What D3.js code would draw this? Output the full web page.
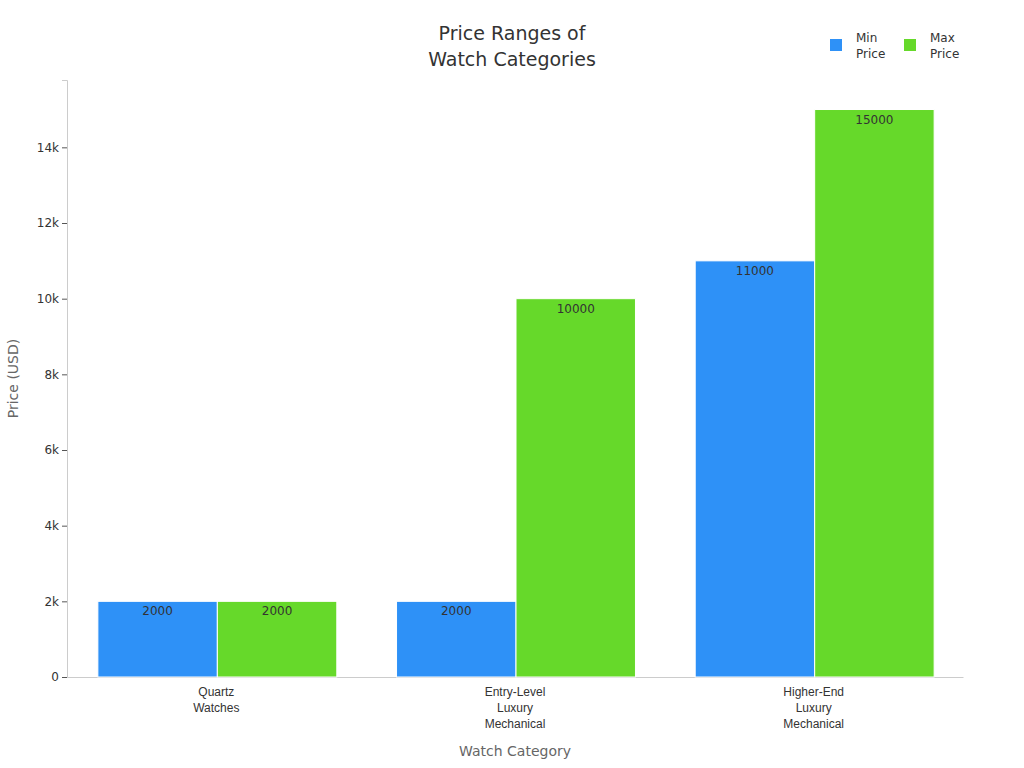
<!DOCTYPE html>
<html>
<head>
<meta charset="utf-8">
<script src="https://cdn.jsdelivr.net/npm/d3@7"></script>
<style>
body { margin: 0; background: #fff; font-family: "DejaVu Sans", sans-serif; }
</style>
</head>
<body>
<div id="chart"></div>
<script>
var categories = [["Quartz", "Watches"], ["Entry-Level", "Luxury", "Mechanical"], ["Higher-End", "Luxury", "Mechanical"]];
var minPrice = [2000, 2000, 11000];
var maxPrice = [2000, 10000, 15000];
var seriesNames = [["Min", "Price"], ["Max", "Price"]];
var colors = ["#2e91f7", "#66d92a"];
var yTicks = [0, 2000, 4000, 6000, 8000, 10000, 12000, 14000];

var W = 1024, H = 768;
var margin = { top: 80, right: 61, bottom: 91, left: 67 };
var w = W - margin.left - margin.right, h = H - margin.top - margin.bottom;

var svg = d3.select('#chart').append('svg')
	.attr('width', W).attr('height', H);
var g = svg.append('g')
	.attr('transform', 'translate(' + margin.left + ',' + margin.top + ')');

var x = d3.scaleBand().domain(d3.range(categories.length)).range([0, w]).paddingInner(0.2).paddingOuter(0.1);
var xs = d3.scaleBand().domain([0, 1]).range([0, x.bandwidth()]);
var y = d3.scaleLinear().domain([0, 15780]).range([h, 0]);

var yAxis = g.append('g').call(d3.axisLeft(y).tickValues(yTicks).tickSize(5)
	.tickFormat(function (d) { return d === 0 ? '0' : (d / 1000) + 'k'; }));
yAxis.select('.domain').attr('stroke', '#ccc');
yAxis.selectAll('.tick line').attr('stroke', '#555');
yAxis.selectAll('text').attr('font-size', 12).attr('fill', '#333').attr('font-family', 'DejaVu Sans');

var xAxis = g.append('g').attr('transform', 'translate(0,' + h + ')')
	.call(d3.axisBottom(x).tickSize(0).tickFormat(''));
xAxis.select('.domain').attr('stroke', '#ccc');
xAxis.selectAll('.tick').each(function (d) {
	var t = d3.select(this).append('text').attr('fill', '#333').attr('font-size', 12)
		.attr('text-anchor', 'middle').attr('y', 19);
	categories[d].forEach(function (s, i) {
		t.append('tspan').attr('x', 0).attr('dy', i ? 16 : 0).text(s);
	});
});

[minPrice, maxPrice].forEach(function (vals, si) {
	var grp = g.append('g');
	grp.selectAll('rect').data(vals).enter().append('rect')
		.attr('x', function (d, i) { return x(i) + xs(si) + 1; })
		.attr('y', function (d) { return y(d); })
		.attr('width', xs.bandwidth())
		.attr('height', function (d) { return h - y(d); })
		.attr('fill', colors[si]).attr('stroke', '#fff').attr('stroke-width', 1);
	grp.selectAll('text').data(vals).enter().append('text')
		.attr('x', function (d, i) { return x(i) + xs(si) + xs.bandwidth() / 2 + 1; })
		.attr('y', function (d) { return y(d) + 14; })
		.attr('text-anchor', 'middle').attr('font-size', 12).attr('fill', '#333')
		.text(function (d) { return d; });
});

svg.append('text').attr('x', 512).attr('y', 40).attr('text-anchor', 'middle')
	.attr('font-size', 19).attr('fill', '#333').text('Price Ranges of');
svg.append('text').attr('x', 512).attr('y', 66).attr('text-anchor', 'middle')
	.attr('font-size', 19).attr('fill', '#333').text('Watch Categories');

svg.append('text').attr('x', margin.left + w / 2).attr('y', 756).attr('text-anchor', 'middle')
	.attr('font-size', 14).attr('fill', '#666').text('Watch Category');
svg.append('text').attr('transform', 'translate(18,' + (margin.top + h / 2) + ') rotate(-90)')
	.attr('text-anchor', 'middle').attr('font-size', 14).attr('fill', '#666').text('Price (USD)');

var lx = [830, 904];
seriesNames.forEach(function (n, i) {
	svg.append('rect').attr('x', lx[i]).attr('y', 39).attr('width', 12).attr('height', 12).attr('fill', colors[i]);
	var t = svg.append('text').attr('font-size', 12).attr('fill', '#333');
	n.forEach(function (s, j) {
		t.append('tspan').attr('x', lx[i] + 26).attr('y', 42 + j * 16).text(s);
	});
});
</script>
</body>
</html>
